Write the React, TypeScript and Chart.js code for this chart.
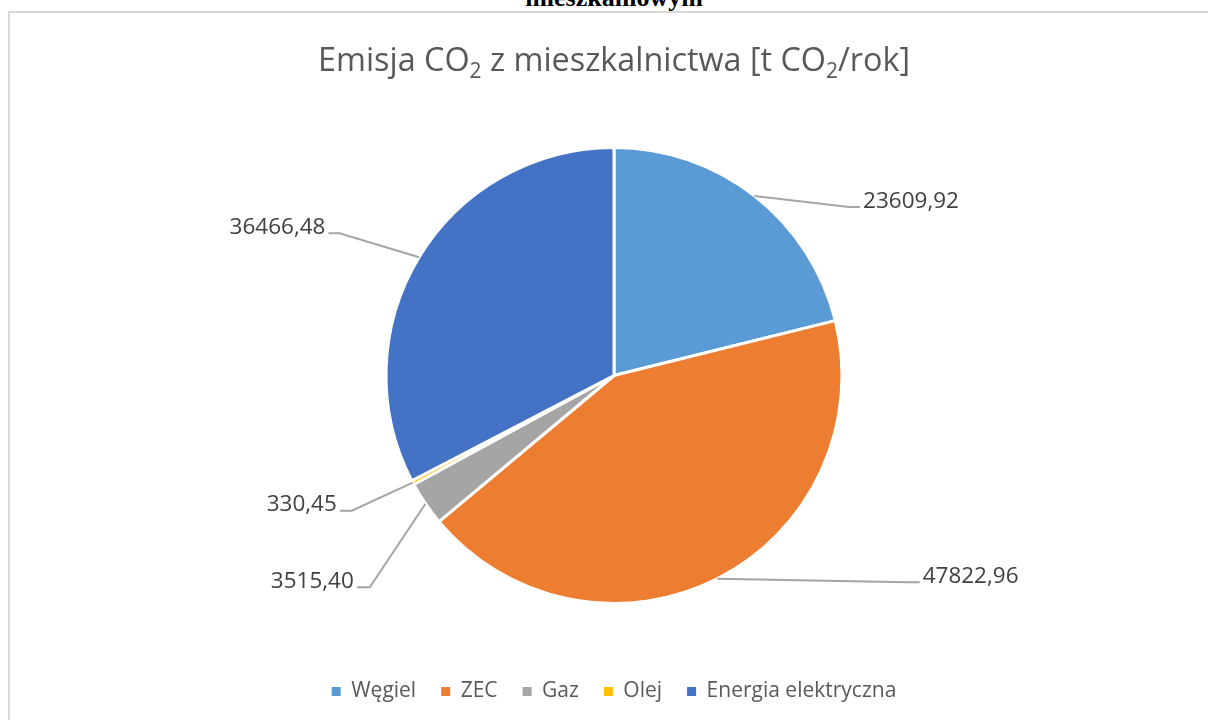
import { useEffect, useRef } from 'react';
import { Chart, registerables } from 'chart.js';

Chart.register(...registerables);

// ---- data ----
const categories = ['Węgiel', 'ZEC', 'Gaz', 'Olej', 'Energia elektryczna'];
const emissions = [23609.92, 47822.96, 3515.4, 330.45, 36466.48];
const sliceColors = ['#5B9BD5', '#ED7D31', '#A5A5A5', '#FFC000', '#4472C4'];
const titleParts: [string, boolean][] = [
  ['Emisja CO', false],
  ['2', true],
  [' z mieszkalnictwa [t CO', false],
  ['2', true],
  ['/rok]', false],
];
const headingText = 'mieszkaniowym';

// ---- label layout (elbow points relative to pie, in radius units) ----
const labelElbows: [number, number][] = [
  [1.031, -0.739],
  [1.288, 0.907],
  [-1.071, 0.929],
  [-1.15, 0.593],
  [-1.204, -0.624],
];
const labelTails = [11, 12, 13, 12, 11];

const formatValue = (v: number) => v.toFixed(2).replace('.', ',');

const FONT = "'Open Sans', 'DejaVu Sans', sans-serif";

const pieLabelPlugin = {
  id: 'pieLabels',
  afterDatasetsDraw(chart: any, _args: any, opts: any) {
    const ctx = chart.ctx;
    const meta = chart.getDatasetMeta(0);
    const data = chart.data.datasets[0].data as number[];
    ctx.save();
    meta.data.forEach((arc: any, i: number) => {
      const p = arc.getProps(['x', 'y', 'startAngle', 'endAngle', 'outerRadius'], true);
      const r = p.outerRadius;
      const mid = (p.startAngle + p.endAngle) / 2;
      const ax = p.x + Math.cos(mid) * r;
      const ay = p.y + Math.sin(mid) * r;
      const [ex, ey] = opts.elbows[i];
      const bx = p.x + ex * r;
      const by = p.y + ey * r;
      const dir = ex < 0 ? -1 : 1;
      const tx = bx + dir * opts.tails[i];
      ctx.strokeStyle = opts.lineColor;
      ctx.lineWidth = opts.lineWidth;
      ctx.beginPath();
      ctx.moveTo(ax, ay);
      ctx.lineTo(bx, by);
      ctx.lineTo(tx, by);
      ctx.stroke();
      ctx.font = `${opts.fontSize}px ${FONT}`;
      ctx.fillStyle = opts.color;
      ctx.textAlign = dir < 0 ? 'right' : 'left';
      ctx.textBaseline = 'alphabetic';
      ctx.fillText(formatValue(data[i]), tx + dir * opts.gap, by + opts.baselineShift);
    });
    ctx.restore();
  },
};

const subTitlePlugin = {
  id: 'subTitle',
  afterDraw(chart: any, _args: any, opts: any) {
    const ctx = chart.ctx;
    ctx.save();
    const mainFont = `${opts.fontSize}px ${FONT}`;
    const subFont = `${Math.round(opts.fontSize * 0.64)}px ${FONT}`;
    let total = 0;
    const widths = opts.parts.map(([t, sub]: [string, boolean]) => {
      ctx.font = sub ? subFont : mainFont;
      const w = ctx.measureText(t).width;
      total += w;
      return w;
    });
    const sx = opts.width / total;
    const cx = chart.width / 2;
    ctx.translate(cx - (total * sx) / 2, opts.baseline);
    ctx.scale(sx, 1);
    ctx.fillStyle = opts.color;
    ctx.textAlign = 'left';
    ctx.textBaseline = 'alphabetic';
    let x = 0;
    opts.parts.forEach(([t, sub]: [string, boolean], i: number) => {
      ctx.font = sub ? subFont : mainFont;
      ctx.fillText(t, x, sub ? opts.fontSize * 0.2 : 0);
      x += widths[i];
    });
    ctx.restore();
  },
};

export default function App() {
  const canvasRef = useRef<HTMLCanvasElement | null>(null);

  useEffect(() => {
    if (!canvasRef.current) return;
    const defaultLabels = Chart.overrides.pie.plugins.legend.labels.generateLabels;
    const chart = new Chart(canvasRef.current, {
      type: 'pie',
      data: {
        labels: categories,
        datasets: [
          {
            data: emissions,
            backgroundColor: sliceColors,
            borderColor: '#ffffff',
            borderWidth: 3,
            radius: 228,
          },
        ],
      },
      options: {
        responsive: false,
        maintainAspectRatio: false,
        animation: false,
        layout: { padding: { top: 82, bottom: 21, left: 0, right: 0 } },
        plugins: {
          tooltip: { enabled: false },
          title: { display: false },
          legend: {
            display: true,
            position: 'bottom',
            labels: {
              boxWidth: 9,
              boxHeight: 9,
              padding: 25,
              color: '#595959',
              font: { family: FONT, size: 21 },
              generateLabels: (c: any) =>
                defaultLabels(c).map((item: any) => ({ ...item, lineWidth: 0, strokeStyle: 'rgba(0,0,0,0)' })),
            },
          },
          pieLabels: {
            elbows: labelElbows,
            tails: labelTails,
            gap: 3,
            lineColor: '#a5a5a5',
            lineWidth: 2,
            color: '#404040',
            fontSize: 22.5,
            baselineShift: 0.5,
          },
          subTitle: {
            parts: titleParts,
            fontSize: 32.5,
            width: 592,
            baseline: 58,
            color: '#595959',
          },
        } as any,
      },
      plugins: [pieLabelPlugin, subTitlePlugin],
    });
    return () => chart.destroy();
  }, []);

  return (
    <div style={{ position: 'fixed', left: 0, top: 0, width: 1208, height: 720, overflow: 'hidden', background: '#fff' }}>
      <div
        style={{
          position: 'absolute',
          left: 414,
          top: -14,
          width: 400,
          textAlign: 'center',
          fontFamily: "'Liberation Serif', 'Times New Roman', serif",
          fontWeight: 'bold',
          fontSize: 26,
          lineHeight: '24px',
          color: '#000',
        }}
      >
        {headingText}
      </div>
      <div
        style={{
          position: 'absolute',
          left: 8,
          top: 11,
          width: 1220,
          height: 740,
          border: '2px solid #d9d9d9',
          boxSizing: 'border-box',
        }}
      >
        <canvas ref={canvasRef} width={1208} height={720} style={{ display: 'block', width: 1208, height: 720 }} />
      </div>
    </div>
  );
}
